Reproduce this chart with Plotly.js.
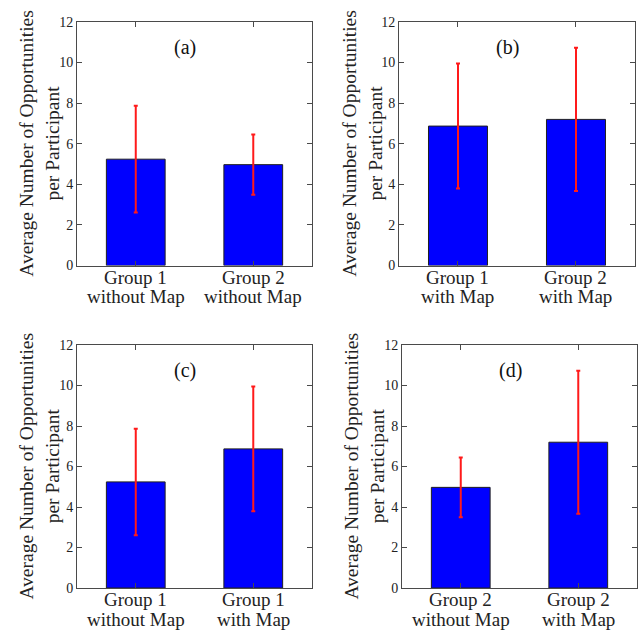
<!DOCTYPE html>
<html>
<head>
<meta charset="utf-8">
<script src="https://cdn.plot.ly/plotly-3.0.1.min.js"></script>
<style>html,body{margin:0;padding:0;background:#fff;}#chart{width:639px;height:632px;}</style>
</head>
<body>
<div id="chart"></div>
<script>
// ---- data ----
const groupNames = ["Group 1 without Map", "Group 2 without Map", "Group 1 with Map", "Group 2 with Map"];
const labelLine1 = ["Group 1", "Group 2", "Group 1", "Group 2"];
const labelLine2 = ["without Map", "without Map", "with Map", "with Map"];
const means = [5.24, 4.97, 6.87, 7.20];
const errors = [2.63, 1.48, 3.08, 3.53];
const panelLetters = ["(a)", "(b)", "(c)", "(d)"];
const panelGroups = [[0, 1], [2, 3], [0, 2], [1, 3]];
const yTitleLines = ["Average Number of Opportunities", "per Participant"];
const yTicks = [0, 2, 4, 6, 8, 10, 12];

// ---- layout geometry ----
const W = 639, H = 632;
const xDomains = [[0.1205, 0.4883], [0.6244, 0.9937], [0.1205, 0.4883], [0.6291, 0.9969]];
const yDomains = [[0.5799, 0.9652], [0.5799, 0.9652], [0.0696, 0.4541], [0.0696, 0.4541]];
const yTitleX = [39, 362, 39, 364];
const labelY1px = [277, 277, 599.5, 599.5];
const labelY2px = [296.5, 296.5, 619, 619];

const serif = "Liberation Serif, Times New Roman, serif";
const axisColor = "#4a4a4a";

const traces = [];
const layout = {
  width: W, height: H,
  margin: {l: 0, r: 0, t: 0, b: 0},
  paper_bgcolor: "#fff", plot_bgcolor: "#fff",
  showlegend: false,
  bargap: 0.5,
  annotations: []
};

panelGroups.forEach((idx, p) => {
  const n = p + 1;
  const xa = n === 1 ? "x" : "x" + n;
  const ya = n === 1 ? "y" : "y" + n;
  const cats = idx.map(i => groupNames[i]);
  traces.push({
    type: "bar",
    x: cats,
    y: idx.map(i => means[i]),
    xaxis: xa, yaxis: ya,
    width: 0.5,
    marker: {color: "#0000ff", line: {color: "#202020", width: 1}},
    error_y: {type: "data", array: idx.map(i => errors[i]), visible: true,
              color: "#ff1a1a", thickness: 2, width: 2},
    hoverinfo: "none"
  });
  const xKey = n === 1 ? "xaxis" : "xaxis" + n;
  const yKey = n === 1 ? "yaxis" : "yaxis" + n;
  layout[xKey] = {
    domain: xDomains[p], anchor: ya,
    type: "category", categoryorder: "array", categoryarray: cats,
    range: [-0.5, 1.5], fixedrange: true,
    showline: true, linecolor: axisColor, linewidth: 1, mirror: "ticks",
    ticks: "inside", ticklen: 5, tickcolor: axisColor,
    showticklabels: false, showgrid: false, zeroline: false
  };
  layout[yKey] = {
    domain: yDomains[p], anchor: xa,
    range: [0, 12], tickmode: "array", tickvals: yTicks, ticktext: yTicks.map(String),
    showline: true, linecolor: axisColor, linewidth: 1, mirror: "ticks",
    ticks: "inside", ticklen: 5, tickcolor: axisColor,
    tickfont: {family: serif, size: 14, color: "#222"},
    showgrid: false, zeroline: false, fixedrange: true
  };
  // panel letter
  layout.annotations.push({
    text: panelLetters[p], xref: xa + " domain", yref: ya, x: 0.46, y: 10.75,
    showarrow: false, xanchor: "center", yanchor: "middle",
    font: {family: serif, size: 20, color: "#111"}
  });
  // y title
  layout.annotations.push({
    text: yTitleLines.join("<br>"), xref: "paper", yref: "paper",
    x: yTitleX[p] / W, y: (yDomains[p][0] + yDomains[p][1]) / 2,
    textangle: -90, showarrow: false, xanchor: "center", yanchor: "middle",
    font: {family: serif, size: 19.5, color: "#222"}
  });
  // x category labels (two lines each)
  idx.forEach(i => {
    layout.annotations.push({
      text: labelLine1[i], xref: xa, yref: "paper", x: groupNames[i], y: 1 - labelY1px[p] / H,
      showarrow: false, xanchor: "center", yanchor: "middle",
      font: {family: serif, size: 19, color: "#222"}
    });
    layout.annotations.push({
      text: labelLine2[i], xref: xa, yref: "paper", x: groupNames[i], y: 1 - labelY2px[p] / H,
      showarrow: false, xanchor: "center", yanchor: "middle",
      font: {family: serif, size: 19, color: "#222"}
    });
  });
});

Plotly.newPlot("chart", traces, layout, {displayModeBar: false, staticPlot: true});
</script>
</body>
</html>
